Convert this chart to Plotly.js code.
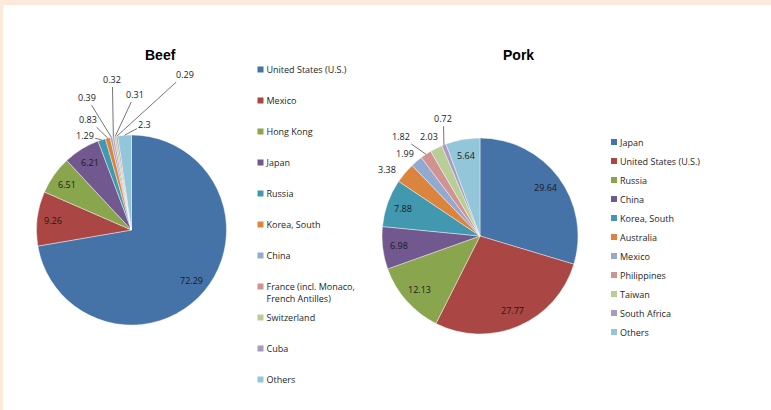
<!DOCTYPE html>
<html>
<head>
<meta charset="utf-8">
<script src="https://cdn.plot.ly/plotly-3.0.1.min.js"></script>
<style>
html,body{margin:0;padding:0;background:#fde9d9;width:771px;height:410px;overflow:hidden}
#chart{position:absolute;left:3px;top:5px;width:768px;height:405px;background:#ffffff}
.infolayer path.scatterpts{transform:translate(34px,0px)}
</style>
</head>
<body>
<div id="chart"></div>
<script>
// ---- data ----
const beefCountries = ["United States (U.S.)", "Mexico", "Hong Kong", "Japan", "Russia", "Korea, South", "China", "France (incl. Monaco, French Antilles)", "Switzerland", "Cuba", "Others"];
const beefShares = [72.29, 9.26, 6.51, 6.21, 1.29, 0.83, 0.39, 0.32, 0.31, 0.29, 2.3];
const porkCountries = ["Japan", "United States (U.S.)", "Russia", "China", "Korea, South", "Australia", "Mexico", "Philippines", "Taiwan", "South Africa", "Others"];
const porkShares = [29.64, 27.77, 12.13, 6.98, 7.88, 3.38, 1.99, 1.82, 2.03, 0.72, 5.64];
const chartTitles = ["Beef", "Pork"];

// ---- style ----
const palette = ["#4572A7", "#AA4643", "#89A54E", "#71588F", "#4198AF", "#DB843D", "#93A9CF", "#D19392", "#B9CD96", "#A99BBD", "#94C6D9"];
const W = 768, H = 405, OX = 3, OY = 5;           // plot div size and offset in page px
const beefGeom = {cx: 131.5, cy: 230, r: 95};
const porkGeom = {cx: 480, cy: 236, r: 98};
const labelFont = {family: "Open Sans, Arial, sans-serif", size: 9, color: "#1a1a1a"};
// label placement per slice: 'in' = inside at 0.83R; otherwise text offset from slice edge (px)
const beefLabelPlace = ["in", "in", "in", "in",
  {dx: -17, dy: -4, lead: true}, {dx: -19.4, dy: -18.7, lead: true}, {dx: -24.6, dy: -40, lead: true},
  {dx: -1, dy: -57.7, lead: true}, {dx: 19.8, dy: -42.4, lead: true}, {dx: 68, dy: -62, lead: true},
  {dx: 20.3, dy: -11, lead: true}];
const porkLabelPlace = ["in", "in", "in", "in", "in",
  {dx: -18.1, dy: -3.8, lead: false}, {dx: -11.5, dy: -8.1, lead: false}, {dx: -25.1, dy: -17.7, lead: true},
  {dx: -6.8, dy: -11.7, lead: false}, {dx: -0.5, dy: -26.7, lead: true}, "in"];

function toPaper(x, y) { return {x: (x - OX) / W, y: 1 - (y - OY) / H}; }
function domainOf(g) {
  return {x: [(g.cx - g.r - OX) / W, (g.cx + g.r - OX) / W],
          y: [1 - (g.cy + g.r - OY) / H, 1 - (g.cy - g.r - OY) / H]};
}
function midAngles(vals) {
  const tot = vals.reduce((a, b) => a + b, 0);
  let c = 0;
  return vals.map(v => { const m = (c + v / 2) / tot * 2 * Math.PI; c += v; return m; });
}
function sliceLabels(vals, geom, place) {
  const ang = midAngles(vals);
  return vals.map((v, i) => {
    const a = ang[i], p = place[i];
    if (p === "in") {
      const q = toPaper(geom.cx + 0.83 * geom.r * Math.sin(a), geom.cy - 0.83 * geom.r * Math.cos(a));
      return {x: q.x, y: q.y, xref: "paper", yref: "paper", text: String(v), showarrow: false,
              xanchor: "center", yanchor: "middle", font: labelFont};
    }
    const ex = geom.cx + geom.r * Math.sin(a), ey = geom.cy - geom.r * Math.cos(a);
    if (p.lead) {
      const q = toPaper(ex, ey);
      return {x: q.x, y: q.y, xref: "paper", yref: "paper", text: String(v), showarrow: true,
              ax: p.dx, ay: p.dy, arrowhead: 0, arrowwidth: 0.8, arrowcolor: "#505050",
              standoff: 0, startstandoff: 0, font: labelFont};
    }
    const q = toPaper(ex + p.dx, ey + p.dy);
    return {x: q.x, y: q.y, xref: "paper", yref: "paper", text: String(v), showarrow: false,
            xanchor: "center", yanchor: "middle", font: labelFont};
  });
}
function twoLine(name) {
  const k = name.lastIndexOf(", ");
  if (name.length > 24 && k > 0) return name.slice(0, k + 1) + "<br>" + name.slice(k + 2);
  return name + "<br> ";
}

const traces = [
  {type: "pie", labels: beefCountries, values: beefShares, sort: false, direction: "clockwise", rotation: 0,
   domain: domainOf(beefGeom), marker: {colors: palette, line: {color: "rgba(255,255,255,0.7)", width: 0.6}},
   textinfo: "none", hoverinfo: "label+value", showlegend: false},
  {type: "pie", labels: porkCountries, values: porkShares, sort: false, direction: "clockwise", rotation: 0,
   domain: domainOf(porkGeom), marker: {colors: palette, line: {color: "rgba(255,255,255,0.7)", width: 0.6}},
   textinfo: "none", hoverinfo: "label+value", showlegend: false}
];
beefCountries.forEach((c, i) => traces.push({
  type: "scatter", x: [null], y: [null], mode: "markers", name: twoLine(c), legend: "legend",
  legendgroup: "beef" + i, marker: {symbol: "square", size: 6, color: palette[i]}, hoverinfo: "skip"}));
porkCountries.forEach((c, i) => traces.push({
  type: "scatter", x: [null], y: [null], mode: "markers", name: c, legend: "legend2",
  marker: {symbol: "square", size: 6, color: palette[i]}, hoverinfo: "skip"}));

const tB = toPaper(160.5, 55.5), tP = toPaper(518, 55.5);
const annotations = [
  {x: tB.x, y: tB.y, xref: "paper", yref: "paper", text: "<b>" + chartTitles[0] + "</b>", showarrow: false,
   xanchor: "center", yanchor: "middle", font: {family: "Liberation Sans, Arial, sans-serif", size: 14, color: "#000"}},
  {x: tP.x, y: tP.y, xref: "paper", yref: "paper", text: "<b>" + chartTitles[1] + "</b>", showarrow: false,
   xanchor: "center", yanchor: "middle", font: {family: "Liberation Sans, Arial, sans-serif", size: 14, color: "#000"}}
].concat(sliceLabels(beefShares, beefGeom, beefLabelPlace), sliceLabels(porkShares, porkGeom, porkLabelPlace));

const legendFont = {family: "Open Sans, Arial, sans-serif", size: 9, color: "#262626"};
const layout = {
  width: W, height: H,
  margin: {l: 0, r: 0, t: 0, b: 0, autoexpand: false},
  paper_bgcolor: "#ffffff", plot_bgcolor: "rgba(0,0,0,0)",
  xaxis: {visible: false, fixedrange: true}, yaxis: {visible: false, fixedrange: true},
  hovermode: false,
  legend: {x: 223.5 / W, y: 1 - 52.2 / H, xanchor: "left", yanchor: "top", traceorder: "grouped",
           tracegroupgap: 4.6, valign: "top", font: legendFont, bgcolor: "rgba(0,0,0,0)", itemclick: false, itemdoubleclick: false},
  legend2: {x: 577 / W, y: 1 - 122.5 / H, xanchor: "left", yanchor: "top", traceorder: "normal",
            font: legendFont, bgcolor: "rgba(0,0,0,0)", itemclick: false, itemdoubleclick: false},
  annotations: annotations
};
Plotly.newPlot("chart", traces, layout, {staticPlot: true, displayModeBar: false});
</script>
</body>
</html>
